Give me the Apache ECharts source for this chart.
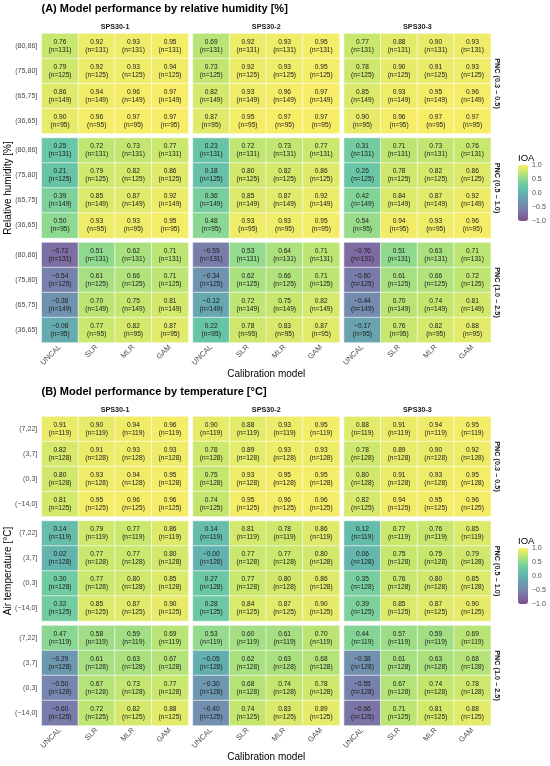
<!DOCTYPE html>
<html><head><meta charset="utf-8">
<script src="https://cdn.jsdelivr.net/npm/echarts@6/dist/echarts.min.js"></script>
<style>html,body{margin:0;padding:0;background:#fff}#c{width:550px;height:766px}</style>
</head><body><div id="c"></div>
<script>
// ---------- data ----------
const models = ['UNCAL','SLR','MLR','GAM'];
const sensors = ['SPS30-1','SPS30-2','SPS30-3'];
const pncBins = ['PNC (0.3 – 0.5)','PNC (0.5 – 1.0)','PNC (1.0 – 2.5)'];
const rhBins = ['(80,86]','(75,80]','(65,75]','(36,65]'];
const rhN = [131,125,149,95];
const tBins = ['(7,22]','(3,7]','(0,3]','(−14,0]'];
const tN = [119,128,128,125];
const legendTicks = [1.0, 0.5, 0.0, -0.5, -1.0];

// relative humidity: rows = rhBins, cols = models
const rhP1S1 = [[0.76,0.92,0.93,0.95],[0.79,0.92,0.93,0.94],[0.86,0.94,0.96,0.97],[0.90,0.96,0.97,0.97]];
const rhP1S2 = [[0.69,0.92,0.93,0.95],[0.73,0.92,0.93,0.95],[0.82,0.93,0.96,0.97],[0.87,0.95,0.97,0.97]];
const rhP1S3 = [[0.77,0.88,0.90,0.93],[0.78,0.90,0.91,0.93],[0.85,0.93,0.95,0.96],[0.90,0.96,0.97,0.97]];
const rhP2S1 = [[0.25,0.72,0.73,0.77],[0.21,0.79,0.82,0.86],[0.39,0.85,0.87,0.92],[0.50,0.93,0.93,0.95]];
const rhP2S2 = [[0.23,0.72,0.73,0.77],[0.18,0.80,0.82,0.86],[0.36,0.85,0.87,0.92],[0.48,0.93,0.93,0.95]];
const rhP2S3 = [[0.31,0.71,0.73,0.76],[0.26,0.78,0.82,0.86],[0.42,0.84,0.87,0.92],[0.54,0.94,0.93,0.96]];
const rhP3S1 = [[-0.72,0.51,0.62,0.71],[-0.54,0.61,0.66,0.71],[-0.36,0.70,0.75,0.81],[-0.08,0.77,0.82,0.87]];
const rhP3S2 = [[-0.59,0.53,0.64,0.71],[-0.34,0.62,0.66,0.71],[-0.12,0.72,0.75,0.82],[0.22,0.78,0.83,0.87]];
const rhP3S3 = [[-0.76,0.51,0.63,0.71],[-0.60,0.61,0.66,0.72],[-0.44,0.70,0.74,0.81],[-0.17,0.76,0.82,0.88]];

// temperature: rows = tBins, cols = models
const tP1S1 = [[0.91,0.90,0.94,0.96],[0.82,0.91,0.93,0.93],[0.80,0.93,0.94,0.95],[0.81,0.95,0.96,0.96]];
const tP1S2 = [[0.90,0.88,0.93,0.95],[0.78,0.89,0.93,0.93],[0.75,0.93,0.95,0.95],[0.74,0.95,0.96,0.96]];
const tP1S3 = [[0.88,0.91,0.94,0.95],[0.78,0.89,0.90,0.92],[0.80,0.91,0.93,0.95],[0.82,0.94,0.95,0.96]];
const tP2S1 = [[0.14,0.79,0.77,0.86],[0.02,0.77,0.77,0.80],[0.30,0.77,0.80,0.85],[0.32,0.85,0.87,0.90]];
const tP2S2 = [[0.14,0.81,0.78,0.86],[-0.004,0.77,0.77,0.80],[0.27,0.77,0.80,0.86],[0.28,0.84,0.87,0.90]];
const tP2S3 = [[0.12,0.77,0.76,0.85],[0.06,0.75,0.75,0.79],[0.35,0.76,0.80,0.85],[0.39,0.85,0.87,0.90]];
const tP3S1 = [[0.47,0.58,0.59,0.69],[-0.29,0.61,0.63,0.67],[-0.50,0.67,0.73,0.77],[-0.60,0.72,0.82,0.88]];
const tP3S2 = [[0.53,0.60,0.61,0.70],[-0.05,0.62,0.63,0.68],[-0.30,0.68,0.74,0.78],[-0.40,0.74,0.83,0.89]];
const tP3S3 = [[0.44,0.57,0.59,0.69],[-0.38,0.61,0.63,0.68],[-0.55,0.67,0.74,0.78],[-0.66,0.71,0.81,0.88]];

const rhValues = [[rhP1S1,rhP1S2,rhP1S3],[rhP2S1,rhP2S2,rhP2S3],[rhP3S1,rhP3S2,rhP3S3]];
const tValues  = [[tP1S1,tP1S2,tP1S3],[tP2S1,tP2S2,tP2S3],[tP3S1,tP3S2,tP3S3]];

// ---------- style / layout ----------
const FF = '"Liberation Sans", Arial, Helvetica, sans-serif';
// viridis blended with white (alpha ~0.7)
const palette = ['#7C4D87','#7E6CA3','#7686AE','#6B9CB0','#64B2AF','#69C6A6','#8ED991','#C6E76E','#FEEE66'];
const colLeft = [41.7, 192.9, 344.1], colW = 146.7;
const rowTop = [33.5, 138, 242.5], rowH = 100;
const legLeft = 518, legTopRel = 165, legH = 56, legW = 10;

function fmt(v){ return (v < 0 || Object.is(v,-0) ? '−' : '') + Math.abs(v).toFixed(2); }
function fmt1(v){ return (v < 0 ? '−' : '') + Math.abs(v).toFixed(1); }

const panels = [
  {off:0,   title:'(A) Model performance by relative humidity [%]', yTitle:'Relative humidity [%]', bins:rhBins, n:rhN, vals:rhValues},
  {off:383, title:'(B) Model performance by temperature [°C]',      yTitle:'Air temperature [°C]',  bins:tBins,  n:tN,  vals:tValues}
];

const grids=[], xAxes=[], yAxes=[], series=[], graphics=[], visualMaps=[];
panels.forEach((P, pi) => {
  const sIdx = [];
  for (let r=0; r<3; r++){
    for (let c=0; c<3; c++){
      const gi = grids.length;
      grids.push({left:colLeft[c], top:P.off+rowTop[r], width:colW, height:rowH});
      xAxes.push({type:'category', gridIndex:gi, data:models,
        axisLine:{show:false}, axisTick:{show:false}, splitLine:{show:false},
        axisLabel:{show:r===2, rotate:45, interval:0, fontSize:7.5, color:'#4d4d4d', margin:3.5, fontFamily:FF}});
      yAxes.push({type:'category', gridIndex:gi, data:P.bins, inverse:true,
        axisLine:{show:false}, axisTick:{show:false}, splitLine:{show:false},
        axisLabel:{show:c===0, interval:0, fontSize:7.1, color:'#4d4d4d', margin:4.4, fontFamily:FF}});
      const data = [];
      for (let i=0;i<P.bins.length;i++) for (let j=0;j<models.length;j++)
        data.push([j, i, P.vals[r][c][i][j], P.n[i]]);
      sIdx.push(series.length);
      series.push({type:'heatmap', xAxisIndex:gi, yAxisIndex:gi, data:data,
        itemStyle:{borderColor:'#ffffff', borderWidth:0.6},
        emphasis:{disabled:true},
        label:{show:true, fontSize:6.6, lineHeight:7.8, color:'#1a1a1a', fontFamily:FF,
          formatter: p => fmt(p.value[2]) + '\n(n=' + p.value[3] + ')'}});
    }
  }
  // strips top
  sensors.forEach((s,c)=>{
    graphics.push({type:'text', x:colLeft[c]+colW/2, y:P.off+26.7,
      style:{text:s, fontSize:7.2, fontWeight:'bold', fontFamily:FF, fill:'#1a1a1a', align:'center', verticalAlign:'middle'}});
  });
  // strips right
  pncBins.forEach((s,r)=>{
    graphics.push({type:'text', x:497.5, y:P.off+rowTop[r]+rowH/2, rotation:-Math.PI/2,
      style:{text:s, fontSize:7.3, fontWeight:'bold', fontFamily:FF, fill:'#1a1a1a', align:'center', verticalAlign:'middle'}});
  });
  // title
  graphics.push({type:'text', x:41.5, y:P.off+9,
    style:{text:P.title, fontSize:11, fontWeight:'bold', fontFamily:FF, fill:'#000', align:'left', verticalAlign:'middle'}});
  // y axis title
  graphics.push({type:'text', x:8.5, y:P.off+(rowTop[0]+rowTop[2]+rowH)/2, rotation:Math.PI/2,
    style:{text:P.yTitle, fontSize:10, fontFamily:FF, fill:'#000', align:'center', verticalAlign:'middle'}});
  // x axis title
  graphics.push({type:'text', x:(colLeft[0]+colLeft[2]+colW)/2, y:P.off+374.5,
    style:{text:'Calibration model', fontSize:10, fontFamily:FF, fill:'#000', align:'center', verticalAlign:'middle'}});
  // legend
  const lt = P.off + legTopRel;
  visualMaps.push({type:'continuous', min:-1, max:1, dimension:2, seriesIndex:sIdx,
    left:legLeft, top:lt, itemWidth:legW, itemHeight:legH, padding:0,
    calculable:false, hoverLink:false, text:null, inRange:{color:palette}});
  graphics.push({type:'text', x:legLeft, y:lt-7,
    style:{text:'IOA', fontSize:9.5, fontFamily:FF, fill:'#000', align:'left', verticalAlign:'middle'}});
  legendTicks.forEach(v=>{
    graphics.push({type:'text', x:legLeft+legW+4, y:lt+(1-v)/2*legH,
      style:{text:fmt1(v), fontSize:7, fontFamily:FF, fill:'#4d4d4d', align:'left', verticalAlign:'middle'}});
  });
});

const chart = echarts.init(document.getElementById('c'), null, {renderer:'canvas'});
chart.setOption({
  animation:false,
  backgroundColor:'#ffffff',
  grid:grids, xAxis:xAxes, yAxis:yAxes, series:series,
  visualMap:visualMaps, graphic:graphics
});
</script></body></html>
